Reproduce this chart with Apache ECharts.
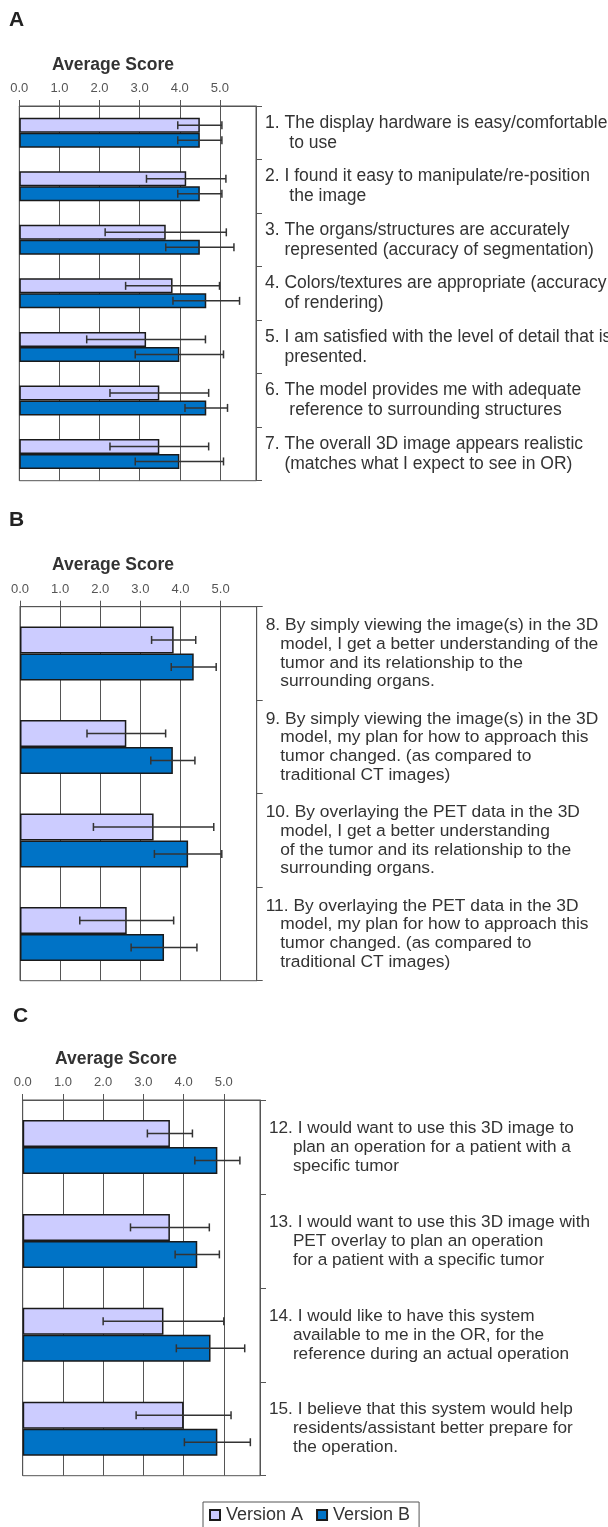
<!DOCTYPE html>
<html>
<head>
<meta charset="utf-8">
<script src="https://cdn.jsdelivr.net/npm/echarts@6/dist/echarts.min.js"></script>
<style>
  html, body { margin: 0; padding: 0; background: #fff; }
  #chart { width: 608px; height: 1527px; }
</style>
</head>
<body>
<div id="chart"></div>
<script>
  // panel A
  const itemsA = [
    '1. The display hardware is easy/comfortable\n     to use',
    '2. I found it easy to manipulate/re-position\n     the image',
    '3. The organs/structures are accurately\n    represented (accuracy of segmentation)',
    '4. Colors/textures are appropriate (accuracy\n    of rendering)',
    '5. I am satisfied with the level of detail that is\n    presented.',
    '6. The model provides me with adequate\n     reference to surrounding structures',
    '7. The overall 3D image appears realistic\n    (matches what I expect to see in OR)'
  ];
  const versionA_A = [4.5, 4.16, 3.65, 3.82, 3.16, 3.49, 3.49];
  const versionA_A_sd = [0.55, 0.99, 1.51, 1.17, 1.48, 1.23, 1.23];
  const versionB_A = [4.5, 4.5, 4.5, 4.66, 3.99, 4.66, 3.99];
  const versionB_A_sd = [0.55, 0.55, 0.85, 0.83, 1.1, 0.53, 1.1];

  // panel B
  const itemsB = [
    '8. By simply viewing the image(s) in the 3D\n   model, I get a better understanding of the\n   tumor and its relationship to the\n   surrounding organs.',
    '9. By simply viewing the image(s) in the 3D\n   model, my plan for how to approach this\n   tumor changed. (as compared to\n   traditional CT images)',
    '10. By overlaying the PET data in the 3D\n   model, I get a better understanding\n   of the tumor and its relationship to the\n   surrounding organs.',
    '11. By overlaying the PET data in the 3D\n   model, my plan for how to approach this\n   tumor changed. (as compared to\n   traditional CT images)'
  ];
  const versionA_B = [3.83, 2.65, 3.33, 2.66];
  const versionA_B_sd = [0.55, 0.98, 1.5, 1.17];
  const versionB_B = [4.33, 3.81, 4.19, 3.59];
  const versionB_B_sd = [0.56, 0.55, 0.84, 0.82];

  // panel C
  const itemsC = [
    '12. I would want to use this 3D image to\n     plan an operation for a patient with a\n     specific tumor',
    '13. I would want to use this 3D image with\n     PET overlay to plan an operation\n     for a patient with a specific tumor',
    '14. I would like to have this system\n     available to me in the OR, for the\n     reference during an actual operation',
    '15. I believe that this system would help\n     residents/assistant better prepare for\n     the operation.'
  ];
  const versionA_C = [3.66, 3.66, 3.5, 4.0];
  const versionA_C_sd = [0.56, 0.98, 1.5, 1.18];
  const versionB_C = [4.84, 4.34, 4.67, 4.84];
  const versionB_C_sd = [0.56, 0.55, 0.85, 0.82];

  const scoreTicks = [0, 1, 2, 3, 4, 5];

  const colorA = '#ccccff';
  const colorB = '#0073c6';
  const font = 'Liberation Sans, Arial, sans-serif';

  const panels = [
    { letter: 'A', items: itemsA, a: versionA_A, asd: versionA_A_sd, b: versionB_A, bsd: versionB_A_sd,
      grid: { left: 19.3, right: 352, top: 106, height: 374.7 }, barWidth: 15, fontSize: 17.5, lineHeight: 20,
      letterTop: 10, titleTop: 56.5, titleLeft: 52 },
    { letter: 'B', items: itemsB, a: versionA_B, asd: versionA_B_sd, b: versionB_B, bsd: versionB_B_sd,
      grid: { left: 20, right: 351.3, top: 606.7, height: 374 }, barWidth: 27, fontSize: 17.4, lineHeight: 18.7,
      letterTop: 510, titleTop: 556, titleLeft: 52 },
    { letter: 'C', items: itemsC, a: versionA_C, asd: versionA_C_sd, b: versionB_C, bsd: versionB_C_sd,
      grid: { left: 22.7, right: 348, top: 1100, height: 375.7 }, barWidth: 27, fontSize: 17.2, lineHeight: 19,
      letterTop: 1005.5, titleTop: 1050.5, titleLeft: 55 }
  ];

  const title = [];
  const grid = [];
  const xAxis = [];
  const yAxis = [];
  const series = [];

  panels.forEach((p, i) => {
    title.push({
      text: p.letter, left: i === 2 ? 13 : 9, top: p.letterTop, padding: 0,
      textStyle: { fontFamily: font, fontSize: 21, fontWeight: 'bold', color: '#222' }
    });
    title.push({
      text: 'Average Score', left: p.titleLeft, top: p.titleTop, padding: 0,
      textStyle: { fontFamily: font, fontSize: 17.5, fontWeight: 'bold', color: '#333' }
    });
    grid.push(Object.assign({ show: true, borderColor: '#555', borderWidth: 1, containLabel: false,
      outerBoundsMode: 'none' }, p.grid));
    xAxis.push({
      gridIndex: i, type: 'value', position: 'top', min: 0, max: 5.9, interval: 1,
      axisLine: { show: true, onZero: false, lineStyle: { color: '#555' } },
      axisTick: { show: true, length: 6, customValues: scoreTicks, lineStyle: { color: '#555' } },
      axisLabel: { customValues: scoreTicks, margin: 11, color: '#555', fontFamily: font, fontSize: 13,
        formatter: v => v.toFixed(1) },
      splitLine: { show: true, lineStyle: { color: '#555', width: 1 } }
    });
    yAxis.push({
      gridIndex: i, type: 'category', position: 'right', inverse: true, data: p.items,
      axisLine: { show: true, onZero: false, lineStyle: { color: '#555' } },
      axisTick: { show: true, length: 6, lineStyle: { color: '#555' } },
      axisLabel: { interval: 0, margin: 9, color: '#333', fontFamily: font, fontSize: p.fontSize,
        lineHeight: p.lineHeight, align: 'left' },
      splitLine: { show: false }
    });
    const barStyle = { borderColor: '#1a1a1a', borderWidth: 1.5 };
    series.push({
      name: 'Version A', type: 'bar', xAxisIndex: i, yAxisIndex: i, data: p.a,
      barWidth: p.barWidth, barGap: '0%', itemStyle: Object.assign({ color: colorA }, barStyle)
    });
    series.push({
      name: 'Version B', type: 'bar', xAxisIndex: i, yAxisIndex: i, data: p.b,
      barWidth: p.barWidth, barGap: '0%', itemStyle: Object.assign({ color: colorB }, barStyle)
    });
    const errData = p.items.map((_, k) => [k, p.a[k], p.asd[k], p.b[k], p.bsd[k]]);
    const bw = p.barWidth;
    series.push({
      type: 'custom', xAxisIndex: i, yAxisIndex: i, data: errData, clip: false, silent: true, z: 5,
      encode: { x: [1, 3], y: 0 },
      renderItem: (params, api) => {
        const idx = api.value(0);
        const children = [];
        [[api.value(1), api.value(2), -bw / 2], [api.value(3), api.value(4), bw / 2]].forEach(e => {
          const lo = api.coord([e[0] - e[1], idx]);
          const hi = api.coord([e[0] + e[1], idx]);
          const y = lo[1] + e[2];
          const st = { stroke: '#333', lineWidth: 1.5 };
          children.push({ type: 'line', shape: { x1: lo[0], y1: y, x2: hi[0], y2: y }, style: st });
          children.push({ type: 'line', shape: { x1: lo[0], y1: y - 4, x2: lo[0], y2: y + 4 }, style: st });
          children.push({ type: 'line', shape: { x1: hi[0], y1: y - 4, x2: hi[0], y2: y + 4 }, style: st });
        });
        return { type: 'group', children: children };
      }
    });
  });

  const chart = echarts.init(document.getElementById('chart'));
  chart.setOption({
    animation: false,
    backgroundColor: '#fff',
    title: title,
    legend: {
      data: ['Version A', 'Version B'], left: 203, top: 1502, orient: 'horizontal',
      icon: 'rect', itemWidth: 10, itemHeight: 10, itemGap: 13,
      padding: [4, 9, 8, 6], borderColor: '#555', borderWidth: 1,
      textStyle: { fontFamily: font, fontSize: 18, color: '#333', padding: [0, 0, 0, 1] }
    },
    grid: grid,
    xAxis: xAxis,
    yAxis: yAxis,
    series: series
  });
</script>
</body>
</html>
